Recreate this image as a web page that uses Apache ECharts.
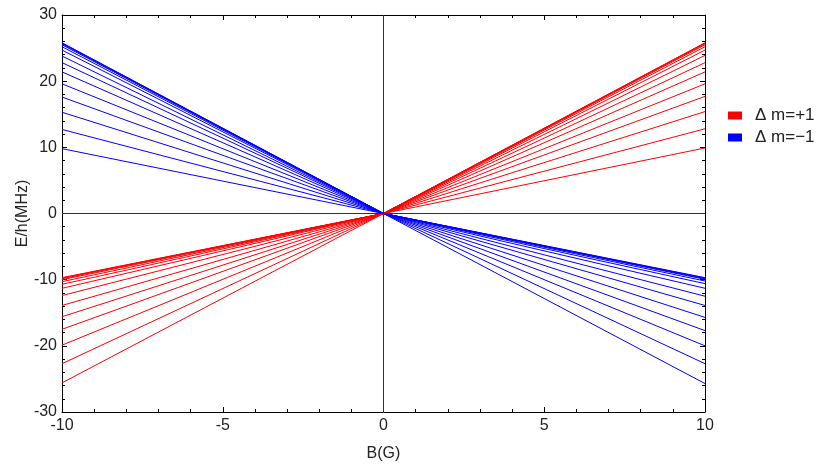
<!DOCTYPE html>
<html>
<head>
<meta charset="utf-8">
<script src="https://cdn.jsdelivr.net/npm/echarts@6/dist/echarts.min.js"></script>
<style>html,body{margin:0;padding:0;background:#fff}#c{width:826px;height:471px}</style>
</head>
<body>
<div id="c"></div>
<script>
// B (G) values at the ends of each line
const bValues = [-10, 0, 10];
// Energies (MHz) read at B=-10 and B=+10 for Δm=+1 lines
const redLeft  = [-25.6, -22.7, -19.9, -17.5, -15.6, -13.9, -12.4, -11.3, -10.7, -10.3, -10.0, -9.85, -9.75, -9.7];
const redRight = [9.9, 12.8, 15.4, 17.7, 19.6, 21.4, 22.8, 23.9, 24.7, 25.2, 25.5, 25.65, 25.75, 25.8];
// Energies (MHz) read at B=-10 and B=+10 for Δm=-1 lines
const blueLeft  = [9.8, 12.7, 15.3, 17.6, 19.6, 21.4, 22.8, 23.8, 24.7, 25.2, 25.5, 25.65, 25.75, 25.8];
const blueRight = [-25.7, -22.7, -20.0, -17.7, -15.7, -13.9, -12.5, -11.3, -10.6, -10.2, -9.95, -9.85, -9.75, -9.7];
const seriesNames = ['Δ m=+1', 'Δ m=\u22121'];
const xTicks = {min: -10, max: 10, interval: 5};
const yTicks = {min: -30, max: 30, interval: 10};

const series = [];
redLeft.forEach((l, i) => {
  series.push({
    name: seriesNames[0], type: 'line', showSymbol: false, symbol: 'none', silent: true,
    lineStyle: {color: '#ff0000', width: 1}, itemStyle: {color: '#ff0000'},
    data: [[bValues[0], l], [bValues[1], 0], [bValues[2], redRight[i]]]
  });
});
blueLeft.forEach((l, i) => {
  series.push({
    name: seriesNames[1], type: 'line', showSymbol: false, symbol: 'none', silent: true,
    lineStyle: {color: '#0000ff', width: 1}, itemStyle: {color: '#0000ff'},
    data: [[bValues[0], l], [bValues[1], 0], [bValues[2], blueRight[i]]]
  });
});
series.push({
  type: 'line', data: [], silent: true,
  markLine: {
    silent: true, symbol: ['none', 'none'], label: {show: false},
    lineStyle: {color: '#333', width: 1, type: 'solid'},
    data: [{xAxis: 0}, {yAxis: 0}]
  }
});

const font = 'Liberation Sans';
const axisCommon = {
  axisLine: {show: true, onZero: false, lineStyle: {color: '#000', width: 1}},
  axisTick: {show: true, inside: true, length: 5, lineStyle: {color: '#000'}},
  minorTick: {show: true, splitNumber: 5, length: 3, lineStyle: {color: '#000'}},
  splitLine: {show: false},
  minorSplitLine: {show: false}
};

const chart = echarts.init(document.getElementById('c'));
chart.setOption({
  animation: false,
  backgroundColor: '#fff',
  grid: {left: 62, right: 121, top: 15, bottom: 59},
  legend: {
    data: seriesNames, orient: 'vertical', left: 723, top: 102,
    icon: 'rect', itemWidth: 14, itemHeight: 8, itemGap: 5,
    textStyle: {fontFamily: font, fontSize: 17, color: '#222', padding: [0, 0, 0, 8]}
  },
  xAxis: [
    Object.assign({type: 'value', position: 'bottom', min: xTicks.min, max: xTicks.max, interval: xTicks.interval,
      name: 'B(G)', nameLocation: 'middle', nameGap: 34, nameMoveOverlap: false,
      nameTextStyle: {fontFamily: font, fontSize: 16, color: '#222'},
      axisLabel: {fontFamily: font, fontSize: 16, color: '#222', margin: 6}}, axisCommon),
    Object.assign({type: 'value', position: 'top', min: xTicks.min, max: xTicks.max, interval: xTicks.interval,
      axisLabel: {show: false}}, axisCommon)
  ],
  yAxis: [
    Object.assign({type: 'value', position: 'left', min: yTicks.min, max: yTicks.max, interval: yTicks.interval,
      name: 'E/h(MHz)', nameLocation: 'middle', nameGap: 31, nameRotate: 90, nameMoveOverlap: false,
      nameTextStyle: {fontFamily: font, fontSize: 16, color: '#222'},
      axisLabel: {fontFamily: font, fontSize: 16, color: '#222', margin: 5}}, axisCommon),
    Object.assign({type: 'value', position: 'right', min: yTicks.min, max: yTicks.max, interval: yTicks.interval,
      axisLabel: {show: false}}, axisCommon)
  ],
  series: series
});
</script>
</body>
</html>
